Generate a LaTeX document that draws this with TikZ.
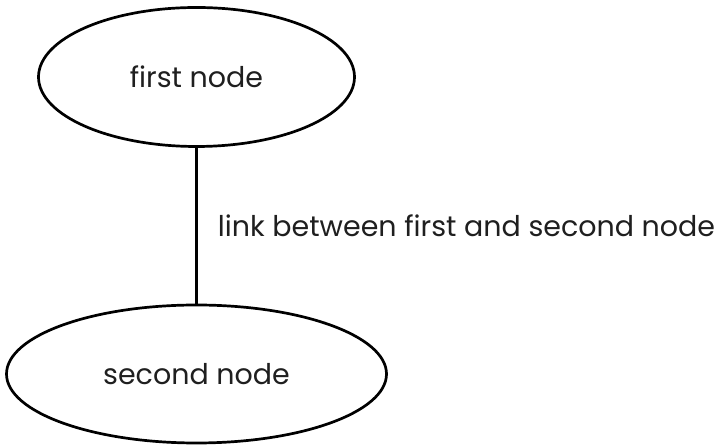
\documentclass[tikz,border=0pt]{standalone}
\usepackage{fontspec}
\setmainfont{Poppins}
\usetikzlibrary{shapes.geometric}
\begin{document}
\begin{tikzpicture}[x=1pt,y=1pt,
  bubble/.style={draw=black, line width=2.7pt, ellipse, inner sep=0pt, font=\fontsize{28.5}{32}\selectfont, text=black!88},
  link/.style={line width=2.7pt, draw=black},
  linklabel/.style={font=\fontsize{28.5}{32}\selectfont, text=black!88, inner sep=0pt, anchor=west}]
\useasboundingbox (0,0) rectangle (720,446);
\node[bubble, minimum width=316pt, minimum height=139pt] (first) at (196.5,369) {first node};
\node[bubble, minimum width=380pt, minimum height=138pt] (second) at (196.5,72) {second node};
\draw[link] (first) -- (second) node[linklabel, midway, xshift=20pt] (lbl) {link between first and second node};
\end{tikzpicture}
\end{document}
